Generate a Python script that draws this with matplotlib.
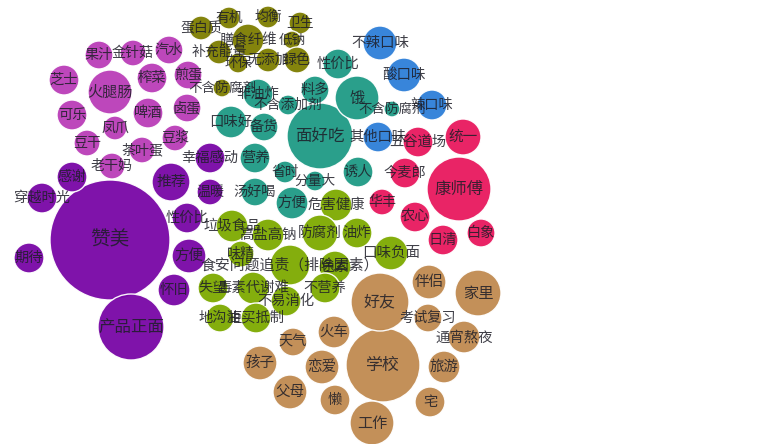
import matplotlib
matplotlib.use("Agg")
import matplotlib.pyplot as plt
from matplotlib.patches import Circle

plt.rcParams['font.family'] = ['Noto Sans CJK SC', 'DejaVu Sans']

# group colours
group_colors = {
    "snack": "#BA3DB8",
    "emotion": "#7806A6",
    "taste": "#1E9A85",
    "flavor": "#2D7FD8",
    "brand": "#E8185E",
    "health": "#7DAA00",
    "nutri": "#7D7D00",
    "scene": "#C08A50",
}

# labels, centre x, centre y, radius, group  (pixel units)
labels = [
    # snacks
    "果汁", "金针菇", "汽水", "芝士", "火腿肠", "榨菜", "煎蛋", "可乐", "啤酒", "卤蛋",
    "凤爪", "豆浆", "豆干", "茶叶蛋", "老干妈",
    # emotion
    "赞美", "产品正面", "推荐", "方便", "怀旧", "幸福感动", "性价比", "温暖", "感谢", "穿越时光", "期待",
    # taste
    "面好吃", "饿", "性价比", "料多", "不含防腐剂", "不含添加剂", "非油炸", "口味好", "备货", "营养",
    "省时", "分量大", "汤好喝", "方便", "诱人",
    # flavor
    "不辣口味", "酸口味", "辣口味", "其他口味",
    # brand
    "统一", "五谷道场", "康师傅", "今麦郎", "华丰", "农心", "日清", "白象",
    # health
    "危害健康", "油炸", "防腐剂", "高盐高钠", "垃圾食品", "味精", "食安问题追责（排除因素）", "色素",
    "不营养", "不易消化", "失望", "毒素代谢难", "地沟油", "拒买抵制", "口味负面",
    # nutrition
    "蛋白质", "有机", "均衡", "卫生", "膳食纤维", "低钠", "补充能量", "环保", "无添加", "绿色", "不含防腐剂",
    # scene
    "学校", "好友", "伴侣", "家里", "考试复习", "通宵熬夜", "旅游", "宅", "工作", "火车", "天气",
    "孩子", "恋爱", "父母", "懒",
]
xs = [
    99, 133, 169, 64, 110, 152, 188, 72, 148, 187, 115, 175, 87, 142, 112,
    110, 131, 171, 189, 174, 210, 187, 210, 72, 42, 29,
    320, 357, 338, 315, 392, 288, 258, 231, 264, 255, 285, 315, 255, 292, 358,
    380, 404, 432, 378,
    463, 418, 459, 405, 382, 415, 443, 481,
    336, 357, 320, 268, 232, 241, 290, 335, 325, 286, 213, 253, 220, 256, 391,
    201, 229, 268, 300, 248, 292, 219, 238, 268, 297, 222,
    383, 380, 429, 478, 428, 464, 444, 430, 372, 334, 293, 260, 322, 290, 335,
]
ys = [
    55, 53, 50, 80, 92, 78, 75, 115, 113, 108, 128, 138, 143, 150, 166,
    240, 327, 182, 256, 290, 158, 218, 192, 177, 198, 258,
    136, 98, 64, 90, 109, 105, 94, 122, 127, 158, 172, 181, 192, 203, 172,
    43, 75, 105, 137,
    137, 142, 189, 173, 202, 217, 240, 233,
    205, 233, 233, 235, 226, 254, 265, 267, 288, 301, 288, 288, 318, 318, 253,
    28, 18, 17, 23, 40, 40, 52, 63, 60, 60, 88,
    365, 302, 282, 293, 318, 337, 367, 402, 423, 332, 342, 363, 367, 392, 400,
]
rads = [
    14, 13, 14, 15, 22, 15, 14, 15, 15, 14, 12, 13, 13, 13, 13,
    60, 33, 19, 17, 16, 15, 15, 13, 15, 15, 15,
    33, 22, 15, 14, 8, 10, 15, 16, 14, 15, 11, 10, 14, 16, 15,
    17, 17, 15, 15,
    18, 15, 32, 15, 13, 15, 15, 14,
    16, 15, 18, 16, 16, 13, 20, 16, 15, 15, 15, 16, 14, 15, 17,
    12, 11, 11, 11, 16, 9, 12, 10, 12, 13, 9,
    37, 29, 17, 23, 14, 16, 16, 15, 22, 16, 14, 17, 17, 17, 15,
]
groups = (["snack"] * 15 + ["emotion"] * 11 + ["taste"] * 15 + ["flavor"] * 4 +
          ["brand"] * 8 + ["health"] * 15 + ["nutri"] * 11 + ["scene"] * 15)

W, H = 772, 444
fig = plt.figure(figsize=(W / 100, H / 100), dpi=100)
ax = fig.add_axes([0, 0, 1, 1])
ax.set_xlim(0, W)
ax.set_ylim(H, 0)
ax.set_aspect("equal")
ax.axis("off")

for x, y, r, g in zip(xs, ys, rads, groups):
    ax.add_patch(Circle((x, y), r, facecolor=group_colors[g], edgecolor="white",
                        linewidth=1.0, alpha=0.95, zorder=1))

for x, y, r, lab in zip(xs, ys, rads, labels):
    fs = (12.5 + 0.12 * r) * 72 / 100
    ax.text(x, y, lab, ha="center", va="center", fontsize=fs,
            color="#1e1e28", alpha=0.85, zorder=2)

fig.savefig("out.png", dpi=100, facecolor="white")
